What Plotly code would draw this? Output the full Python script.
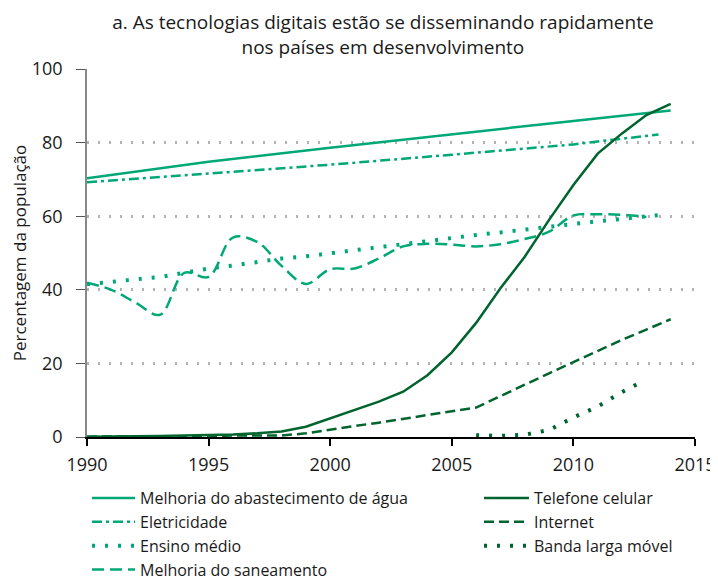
import plotly.graph_objects as go

LIGHT = "#00A878"
DARK = "#00642E"

water_years = [1990, 1995, 2000, 2005, 2007, 2010, 2014]
water_vals = [70.3, 74.8, 78.6, 82.3, 83.7, 85.9, 88.7]

elec_years = [1990, 1995, 2000, 2005, 2007, 2010, 2011, 2012, 2013, 2013.5]
elec_vals = [69.2, 71.5, 74.0, 76.7, 77.8, 79.5, 80.3, 81.0, 81.8, 82.2]

school_years = list(range(1990, 2014)) + [2013.5]
school_vals = [41.5, 42.2, 42.8, 43.5, 44.6, 45.8, 46.6, 47.6, 48.5, 49.1,
               50.0, 50.7, 51.6, 52.4, 53.3, 54.1, 54.9, 55.6, 56.4, 57.3,
               57.9, 58.6, 59.3, 59.9, 60.3]

sanit_years = list(range(1990, 2014))
sanit_vals = [41.9, 40.0, 36.5, 33.2, 44.6, 43.5, 54.2, 53.0, 46.5, 41.6,
              45.6, 45.8, 48.5, 51.8, 52.5, 52.3, 51.8, 52.4, 53.8, 55.8,
              60.2, 60.5, 60.4, 59.8]

phone_years = list(range(1990, 2015))
phone_vals = [0.1, 0.1, 0.2, 0.3, 0.4, 0.5, 0.7, 1.0, 1.5, 2.8,
              5.0, 7.4, 9.6, 12.3, 16.8, 23.0, 31.0, 40.4, 49.0, 59.0,
              68.5, 77.0, 82.5, 87.5, 90.5]

net_years = list(range(1990, 2015))
net_vals = [0.1, 0.1, 0.1, 0.1, 0.2, 0.2, 0.4, 0.5, 0.4, 1.0,
            2.1, 3.0, 3.9, 5.0, 6.0, 7.0, 8.0, 11.2, 14.2, 17.3,
            20.4, 23.4, 26.4, 29.2, 32.0]

mbb_years = [2006, 2007, 2008, 2009, 2010, 2011, 2012, 2012.6]
mbb_vals = [0.5, 0.3, 0.6, 1.9, 5.3, 8.3, 12.2, 14.3]

x_ticks = [1990, 1995, 2000, 2005, 2010, 2015]
y_ticks = [0, 20, 40, 60, 80, 100]

fig = go.Figure()

def add(name, x, y, color, dash, legend, shape="linear", width=2.5):
    fig.add_trace(go.Scatter(x=x, y=y, mode="lines", name=name, legend=legend,
                             line=dict(color=color, dash=dash, width=width, shape=shape)))

add("Melhoria do abastecimento de água", water_years, water_vals, LIGHT, "solid", "legend")
add("Eletricidade", elec_years, elec_vals, LIGHT, "10px,4px,3px,4px", "legend")
add("Ensino médio", school_years, school_vals, LIGHT, "3px,10px", "legend", width=4)
add("Melhoria do saneamento", sanit_years, sanit_vals, LIGHT, "12px,6px", "legend", shape="spline")
add("Telefone celular", phone_years, phone_vals, DARK, "solid", "legend2")
add("Internet", net_years, net_vals, DARK, "10px,5px", "legend2")
add("Banda larga móvel", mbb_years, mbb_vals, DARK, "3px,10px", "legend2", width=4)

FONT = "Open Sans"
TXT = "#1a1a1a"
LEG_FONT = dict(family=FONT, size=16, color=TXT)

fig.update_layout(
    width=710, height=573,
    margin=dict(l=79, r=23, t=61, b=144, autoexpand=False),
    paper_bgcolor="white", plot_bgcolor="white",
    font=dict(family=FONT, size=17, color=TXT),
    title=dict(text="a. As tecnologias digitais estão se disseminando rapidamente<br>nos países em desenvolvimento",
               x=0.528, xref="container", xanchor="center", y=0.963, yanchor="middle",
               font=dict(family=FONT, size=19, color=TXT)),
    showlegend=True,
    legend=dict(orientation="v", x=0.0, xanchor="left", y=-0.12, yanchor="top",
                itemwidth=43, font=LEG_FONT, bgcolor="rgba(0,0,0,0)", tracegroupgap=0),
    legend2=dict(orientation="v", x=0.6447, xanchor="left", y=-0.12, yanchor="top",
                 itemwidth=45, font=LEG_FONT, bgcolor="rgba(0,0,0,0)", tracegroupgap=0),
    xaxis=dict(range=[1990, 2015], tickvals=x_ticks,
               showgrid=False, zeroline=False, showline=True, linecolor="black", linewidth=1.5,
               ticks="outside", ticklen=7, tickcolor="black", tickwidth=1.5,
               ticklabelstandoff=4,
               tickfont=dict(size=18, family=FONT, color=TXT)),
    yaxis=dict(range=[0, 100], tickvals=y_ticks,
               showgrid=True, gridcolor="#b3b3b3", griddash="2px,9px", gridwidth=3,
               zeroline=False, showline=True, linecolor="#888", linewidth=1.5,
               ticks="outside", ticklen=9, tickcolor="#555", tickwidth=1,
               ticklabelstandoff=10,
               tickfont=dict(size=18, family=FONT, color=TXT),
               title=dict(text="Percentagem da população", font=dict(size=17, family=FONT, color=TXT),
                          standoff=8)),
)

fig.write_html("out.html")
